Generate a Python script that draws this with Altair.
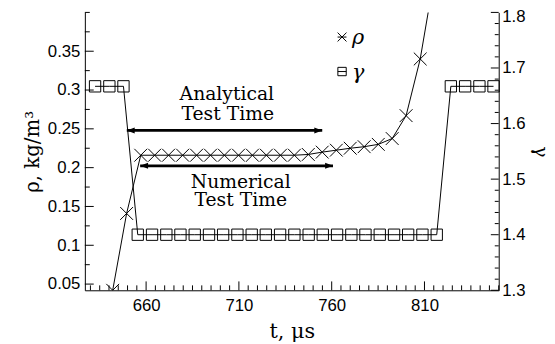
import altair as alt
import pandas as pd

# ---- data ----
gamma_t = [632.5, 640.2, 647.8, 655.5, 663.2, 670.9, 678.5, 686.2, 693.9, 701.5,
           709.2, 716.9, 724.5, 732.2, 739.9, 747.6, 755.2, 762.9, 770.6, 778.2,
           785.9, 793.6, 801.2, 808.9, 816.6, 824.2, 831.9, 839.6, 847.2]
gamma_v = [1.667, 1.667, 1.667, 1.4, 1.4, 1.4, 1.4, 1.4, 1.4, 1.4,
           1.4, 1.4, 1.4, 1.4, 1.4, 1.4, 1.4, 1.4, 1.4, 1.4,
           1.4, 1.4, 1.4, 1.4, 1.4, 1.667, 1.667, 1.667, 1.667]

rho_t = [642.0, 649.5, 657.1, 664.6, 672.1, 679.7, 687.2, 694.7, 702.2, 709.8,
         717.3, 724.8, 732.4, 739.9, 747.4, 754.9, 762.5, 770.0, 777.5, 785.1,
         792.6, 800.1, 807.7, 815.2]
rho_v = [0.042, 0.141, 0.216, 0.216, 0.216, 0.216, 0.216, 0.216, 0.216, 0.216,
         0.216, 0.216, 0.216, 0.216, 0.217, 0.220, 0.2225, 0.225, 0.227, 0.230,
         0.2375, 0.267, 0.340, 0.445]

arrow_label = ["Analytical", "Numerical"]
arrow_t0 = [649.6, 656.8]
arrow_t1 = [754.9, 760.7]
arrow_rho = [0.248, 0.2023]

note_text = ["Analytical", "Test Time", "Numerical", "Test Time"]
note_t = [703.5, 704.0, 711.0, 711.0]
note_rho = [0.287, 0.2608, 0.1743, 0.150]

x_major = [660, 710, 760, 810]
x_minor = [630, 635, 640, 645, 650, 655, 665, 670, 675, 680, 685, 690, 695, 700, 705,
           715, 720, 725, 730, 735, 740, 745, 750, 755, 765, 770, 775, 780, 785, 790,
           795, 800, 805, 815, 820, 825, 830, 835, 840, 845, 850]
rho_major = [0.05, 0.1, 0.15, 0.2, 0.25, 0.3, 0.35]
rho_minor = [0.075, 0.125, 0.175, 0.225, 0.275, 0.325, 0.375, 0.4]
gamma_major = [1.3, 1.4, 1.5, 1.6, 1.7, 1.8]
gamma_minor = [1.32, 1.34, 1.36, 1.38, 1.42, 1.44, 1.46, 1.48, 1.52, 1.54, 1.56, 1.58,
               1.62, 1.64, 1.66, 1.68, 1.72, 1.74, 1.76, 1.78]

# ---- layout constants ----
W, H = 420, 282
SANS = "Liberation Sans"
SERIF = "DejaVu Serif"

xscale = alt.Scale(domain=[627, 850], nice=False, zero=False)
rscale = alt.Scale(domain=[0.042, 0.40], nice=False, zero=False)
gscale = alt.Scale(domain=[1.3, 1.8], nice=False, zero=False)

CROSS = "M-1,-1L1,1M-1,1L1,-1"
CROSS_BAR = "M-1,-1L1,1M-1,1L1,-1M-1,0L1,0"
SQUARE_BAR = "M-1,-1L1,-1L1,1L-1,1ZM-1,0L1,0"
HEAD_R = "M0,0L-1,-0.38L-1,0.38Z"
HEAD_L = "M0,0L1,-0.38L1,0.38Z"

rho_df = pd.DataFrame({"t": rho_t, "rho": rho_v})
gam_df = pd.DataFrame({"t": gamma_t, "gamma": gamma_v})
arr_df = pd.DataFrame({"label": arrow_label, "t": arrow_t0, "t2": arrow_t1, "rho": arrow_rho})
note_df = pd.DataFrame({"text": note_text, "t": note_t, "rho": note_rho})

x_axis = alt.Axis(values=x_major, title="t, μs", grid=False, ticks=False, tickSize=0,
                  labelFont=SANS, labelFontSize=17, labelColor="black", labelPadding=8,
                  labelFlush=False, domainColor="black", domainWidth=1,
                  titleFont=SERIF, titleFontSize=21, titleFontWeight="normal",
                  titleColor="black", titlePadding=7)
r_axis = alt.Axis(values=rho_major, format="~g", title="ρ, kg/m³", grid=False,
                  ticks=False, tickSize=0, labelFont=SANS, labelFontSize=17,
                  labelColor="black", labelPadding=5, labelFlush=False,
                  domainColor="black", domainWidth=1, titleFont=SERIF, titleFontSize=20,
                  titleFontWeight="normal", titleColor="black", titlePadding=5)
g_axis = alt.Axis(values=gamma_major, format=".1f", title="γ", orient="right", grid=False,
                  ticks=False, tickSize=0, labelFont=SANS, labelFontSize=17,
                  labelColor="black", labelPadding=3, labelFlush=False,
                  labelOffset=alt.condition("datum.value > 1.79", alt.value(4), alt.value(0)),
                  domainColor="black", domainWidth=1, titleFont=SERIF, titleFontSize=19,
                  titleFontWeight="normal", titleColor="black", titlePadding=6)

X = alt.X("t:Q", scale=xscale, axis=x_axis)
Xp = alt.X("t:Q", scale=xscale)

rho_line = alt.Chart(rho_df).mark_line(color="black", strokeWidth=1, clip=True).encode(
    x=X, y=alt.Y("rho:Q", scale=rscale, axis=r_axis))
rho_pts = alt.Chart(rho_df).mark_point(shape=CROSS, size=169, color="black", strokeWidth=1,
                                       filled=False, opacity=1, clip=True).encode(
    x=Xp, y=alt.Y("rho:Q", scale=rscale))

arrows = alt.Chart(arr_df).mark_rule(color="black", strokeWidth=3).encode(
    x=Xp, x2="t2:Q", y=alt.Y("rho:Q", scale=rscale))
head_r = alt.Chart(arr_df).mark_point(shape=HEAD_R, size=256, filled=True, color="black",
                                      opacity=1, strokeWidth=0).encode(
    x=alt.X("t2:Q", scale=xscale), y=alt.Y("rho:Q", scale=rscale))
head_l = alt.Chart(arr_df).mark_point(shape=HEAD_L, size=256, filled=True, color="black",
                                      opacity=1, strokeWidth=0).encode(
    x=Xp, y=alt.Y("rho:Q", scale=rscale))

notes = alt.Chart(note_df).mark_text(font=SERIF, fontSize=19, color="black", align="center",
                                     baseline="alphabetic").encode(
    x=Xp, y=alt.Y("rho:Q", scale=rscale), text="text:N")

xt_major = alt.Chart(pd.DataFrame({"t": x_major})).mark_rule(color="black").encode(
    x=Xp, y=alt.value(H), y2=alt.value(H - 9))
xt_minor = alt.Chart(pd.DataFrame({"t": x_minor})).mark_rule(color="black").encode(
    x=Xp, y=alt.value(H), y2=alt.value(H - 5))
rt_major = alt.Chart(pd.DataFrame({"rho": rho_major})).mark_rule(color="black").encode(
    y=alt.Y("rho:Q", scale=rscale), x=alt.value(0), x2=alt.value(9))
rt_minor = alt.Chart(pd.DataFrame({"rho": rho_minor})).mark_rule(color="black").encode(
    y=alt.Y("rho:Q", scale=rscale), x=alt.value(0), x2=alt.value(5))

leg_df = pd.DataFrame({"k": [0]})
leg_rho_sym = alt.Chart(leg_df).mark_point(shape=CROSS_BAR, size=81, color="black",
                                           filled=False, opacity=1, strokeWidth=1).encode(
    x=alt.value(261), y=alt.value(25))
leg_gam_sym = alt.Chart(leg_df).mark_point(shape=SQUARE_BAR, size=72, color="black",
                                           filled=False, opacity=1, strokeWidth=1).encode(
    x=alt.value(261), y=alt.value(60))
leg_rho_txt = alt.Chart(leg_df).mark_text(text="ρ", font=SERIF, fontStyle="italic",
                                          fontSize=21, align="left", baseline="middle",
                                          color="black").encode(
    x=alt.value(271), y=alt.value(26))
leg_gam_txt = alt.Chart(leg_df).mark_text(text="γ", font=SERIF, fontStyle="italic",
                                          fontSize=21, align="left", baseline="middle",
                                          color="black").encode(
    x=alt.value(271), y=alt.value(62))

gam_line = alt.Chart(gam_df).mark_line(color="black", strokeWidth=1).encode(
    x=Xp, y=alt.Y("gamma:Q", scale=gscale, axis=g_axis))
gam_pts = alt.Chart(gam_df).mark_point(shape="square", size=132, color="black",
                                       strokeWidth=1, filled=False, opacity=1).encode(
    x=Xp, y=alt.Y("gamma:Q", scale=gscale))
gt_major = alt.Chart(pd.DataFrame({"gamma": gamma_major})).mark_rule(color="black").encode(
    y=alt.Y("gamma:Q", scale=gscale), x=alt.value(W), x2=alt.value(W - 8))
gt_minor = alt.Chart(pd.DataFrame({"gamma": gamma_minor})).mark_rule(color="black").encode(
    y=alt.Y("gamma:Q", scale=gscale), x=alt.value(W), x2=alt.value(W - 4))

left = alt.layer(rho_line, rho_pts, arrows, head_r, head_l, notes, xt_major, xt_minor,
                 rt_major, rt_minor, leg_rho_sym, leg_gam_sym, leg_rho_txt, leg_gam_txt)
right = alt.layer(gam_line, gam_pts, gt_major, gt_minor)

chart = alt.layer(left, right).resolve_scale(y="independent").properties(
    width=W, height=H, autosize="none",
    padding={"left": 78, "top": 2, "right": 49, "bottom": 50},
    background="white",
).configure_view(stroke=None)

chart.save("out.html", embed_options={"renderer": "svg", "actions": False})
